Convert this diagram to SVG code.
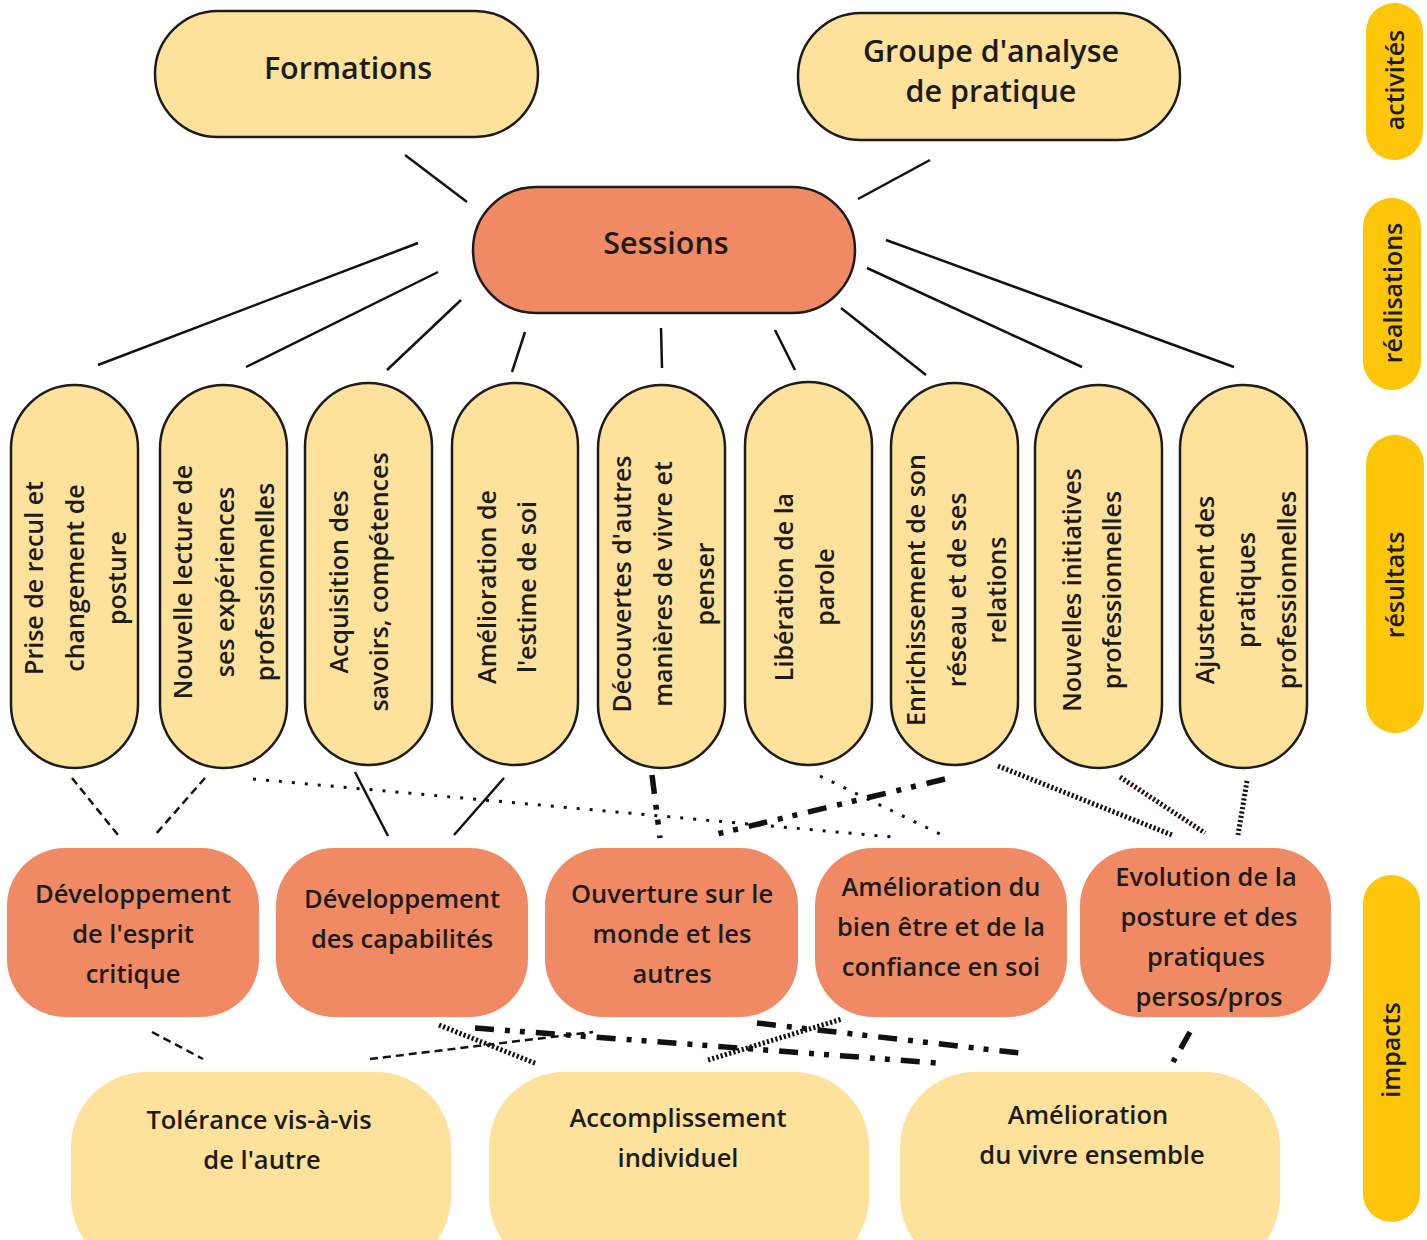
<svg xmlns="http://www.w3.org/2000/svg" width="1427" height="1240" viewBox="0 0 1427 1240">
<style>
text{font-family:"Open Sans","Liberation Sans",sans-serif;font-weight:600;fill:#1c1c1c;text-anchor:middle}
.y{fill:#FEE19B;stroke:#1c1c1c;stroke-width:2.5}
.s{fill:#F08A64;stroke:#1c1c1c;stroke-width:2.5}
.imp{fill:#F08A64}
.bot{fill:#FEE19B}
.side{fill:#FDC60B}
.t{font-size:25px}
.ti{font-size:25.5px}
.big{font-size:30.5px}
.sd{font-size:25px}
.c line{stroke:#111;fill:none}
.solid{stroke-width:2.5}
.dash{stroke-width:2.5;stroke-dasharray:8 5}
.dot{stroke-width:3;stroke-dasharray:3 10}
.dd{stroke-width:5.5;stroke-dasharray:19 11 5 10 5 11}
.hat{stroke-width:5;stroke-dasharray:2.2 2.2}
</style>

<g id="side-activites"><rect class="side" x="1366" y="3" width="57" height="157" rx="28.5"/><text class="sd" transform="translate(1404,80) rotate(-90)">activités</text></g>
<g id="side-realisations"><rect class="side" x="1363" y="198" width="58" height="192" rx="29"/><text class="sd" transform="translate(1402,293) rotate(-90)">réalisations</text></g>
<g id="side-resultats"><rect class="side" x="1366" y="435" width="58" height="298" rx="29"/><text class="sd" transform="translate(1404,585) rotate(-90)">résultats</text></g>
<g id="side-impacts"><rect class="side" x="1363" y="875" width="57" height="347" rx="28.5"/><text class="sd" transform="translate(1400,1050) rotate(-90)">impacts</text></g>

<g id="connectors" class="c">
<line class="solid" x1="405" y1="155" x2="467" y2="202"/>
<line class="solid" x1="930" y1="160" x2="858" y2="199"/>
<line class="solid" x1="418" y1="243" x2="98" y2="365"/>
<line class="solid" x1="438" y1="272" x2="246" y2="367"/>
<line class="solid" x1="461" y1="300" x2="387" y2="370"/>
<line class="solid" x1="525" y1="332" x2="512" y2="372"/>
<line class="solid" x1="661" y1="328" x2="662" y2="368"/>
<line class="solid" x1="775" y1="330" x2="795" y2="370"/>
<line class="solid" x1="841" y1="308" x2="926" y2="375"/>
<line class="solid" x1="867" y1="268" x2="1082" y2="367"/>
<line class="solid" x1="886" y1="240" x2="1234" y2="367"/>

<line class="dash" x1="72" y1="778" x2="118" y2="835"/>
<line class="dash" x1="205" y1="778" x2="155" y2="835"/>
<line class="dot" x1="253" y1="779" x2="892" y2="837"/>
<line class="solid" x1="355" y1="772" x2="388" y2="836"/>
<line class="solid" x1="504" y1="778" x2="454" y2="835"/>
<line class="dd" x1="652" y1="775" x2="660" y2="838"/>
<line class="dd" x1="945" y1="779" x2="713" y2="835"/>
<line class="dot" x1="820" y1="776" x2="942" y2="835"/>
<line class="hat" x1="998" y1="766" x2="1172" y2="835"/>
<line class="hat" x1="1120" y1="777" x2="1205" y2="833" style="stroke:#2a0c0c"/>
<line class="hat" x1="1247" y1="781" x2="1238" y2="835"/>

<line class="dash" x1="152" y1="1032" x2="203" y2="1059"/>
<line class="hat" x1="439" y1="1025" x2="537" y2="1064"/>
<line class="dash" x1="370" y1="1059" x2="593" y2="1032"/>
<line class="dd" x1="475" y1="1028" x2="937" y2="1063"/>
<line class="hat" x1="708" y1="1060" x2="842" y2="1019"/>
<line class="dd" x1="757" y1="1023" x2="1028" y2="1054"/>
<line class="dd" x1="1190" y1="1032" x2="1173" y2="1062"/>
</g>

<g id="formations"><rect class="y" x="155" y="11" width="383" height="126" rx="63"/><text class="big" x="348" y="79">Formations</text></g>
<g id="groupe"><rect class="y" x="798" y="13" width="382" height="127" rx="63"/><text class="big" x="991" y="62">Groupe d'analyse</text><text class="big" x="991" y="102">de pratique</text></g>
<g id="sessions"><rect class="s" x="473" y="187" width="382" height="126" rx="63"/><text class="big" x="666" y="254">Sessions</text></g>

<g id="r1"><rect class="y" x="11" y="385" width="127" height="383" rx="63.5"/>
<text class="t" transform="translate(43,578) rotate(-90)">Prise de recul et</text>
<text class="t" transform="translate(84,578) rotate(-90)">changement de</text>
<text class="t" transform="translate(126,578) rotate(-90)">posture</text></g>
<g id="r2"><rect class="y" x="160" y="385" width="127" height="383" rx="63.5"/>
<text class="t" transform="translate(192,582) rotate(-90)">Nouvelle lecture de</text>
<text class="t" transform="translate(234,582) rotate(-90)">ses expériences</text>
<text class="t" transform="translate(274,582) rotate(-90)">professionnelles</text></g>
<g id="r3"><rect class="y" x="305" y="383" width="127" height="382" rx="63.5"/>
<text class="t" transform="translate(348,582) rotate(-90)">Acquisition des</text>
<text class="t" transform="translate(388,582) rotate(-90)">savoirs, compétences</text></g>
<g id="r4"><rect class="y" x="452" y="383" width="126" height="382" rx="63"/>
<text class="t" transform="translate(496,587) rotate(-90)">Amélioration de</text>
<text class="t" transform="translate(536,587) rotate(-90)">l'estime de soi</text></g>
<g id="r5"><rect class="y" x="598" y="385" width="127" height="383" rx="63.5"/>
<text class="t" transform="translate(631,584) rotate(-90)">Découvertes d'autres</text>
<text class="t" transform="translate(672,584) rotate(-90)">manières de vivre et</text>
<text class="t" transform="translate(714,584) rotate(-90)">penser</text></g>
<g id="r6"><rect class="y" x="745" y="382" width="127" height="383" rx="63.5"/>
<text class="t" transform="translate(793,587) rotate(-90)">Libération de la</text>
<text class="t" transform="translate(834,587) rotate(-90)">parole</text></g>
<g id="r7"><rect class="y" x="891" y="383" width="127" height="382" rx="63.5"/>
<text class="t" transform="translate(925,590) rotate(-90)">Enrichissement de son</text>
<text class="t" transform="translate(966,590) rotate(-90)">réseau et de ses</text>
<text class="t" transform="translate(1006,590) rotate(-90)">relations</text></g>
<g id="r8"><rect class="y" x="1035" y="385" width="127" height="383" rx="63.5"/>
<text class="t" transform="translate(1081,590) rotate(-90)">Nouvelles initiatives</text>
<text class="t" transform="translate(1121,590) rotate(-90)">professionnelles</text></g>
<g id="r9"><rect class="y" x="1180" y="385" width="127" height="383" rx="63.5"/>
<text class="t" transform="translate(1214,590) rotate(-90)">Ajustement des</text>
<text class="t" transform="translate(1255,590) rotate(-90)">pratiques</text>
<text class="t" transform="translate(1296,590) rotate(-90)">professionnelles</text></g>

<g id="i1"><rect class="imp" x="7" y="848" width="252" height="169" rx="58"/>
<text class="ti" x="133" y="903">Développement</text><text class="ti" x="133" y="943">de l'esprit</text><text class="ti" x="133" y="983">critique</text></g>
<g id="i2"><rect class="imp" x="276" y="848" width="252" height="169" rx="58"/>
<text class="ti" x="402" y="908">Développement</text><text class="ti" x="402" y="948">des capabilités</text></g>
<g id="i3"><rect class="imp" x="545" y="848" width="253" height="169" rx="58"/>
<text class="ti" x="672" y="903">Ouverture sur le</text><text class="ti" x="672" y="943">monde et les</text><text class="ti" x="672" y="983">autres</text></g>
<g id="i4"><rect class="imp" x="815" y="848" width="252" height="169" rx="58"/>
<text class="ti" x="941" y="896">Amélioration du</text><text class="ti" x="941" y="936">bien être et de la</text><text class="ti" x="941" y="976">confiance en soi</text></g>
<g id="i5"><rect class="imp" x="1080" y="848" width="251" height="169" rx="58"/>
<text class="ti" x="1206" y="886">Evolution de la</text><text class="ti" x="1209" y="926">posture et des</text><text class="ti" x="1206" y="966">pratiques</text><text class="ti" x="1209" y="1006">persos/pros</text></g>

<g id="b1"><rect class="bot" x="71" y="1072" width="380" height="200" rx="75"/>
<text class="ti" x="259" y="1129">Tolérance vis-à-vis</text><text class="ti" x="262" y="1169">de l'autre</text></g>
<g id="b2"><rect class="bot" x="489" y="1072" width="380" height="200" rx="75"/>
<text class="ti" x="678" y="1127">Accomplissement</text><text class="ti" x="678" y="1167">individuel</text></g>
<g id="b3"><rect class="bot" x="900" y="1072" width="380" height="200" rx="75"/>
<text class="ti" x="1088" y="1124">Amélioration</text><text class="ti" x="1092" y="1164">du vivre ensemble</text></g>
</svg>
